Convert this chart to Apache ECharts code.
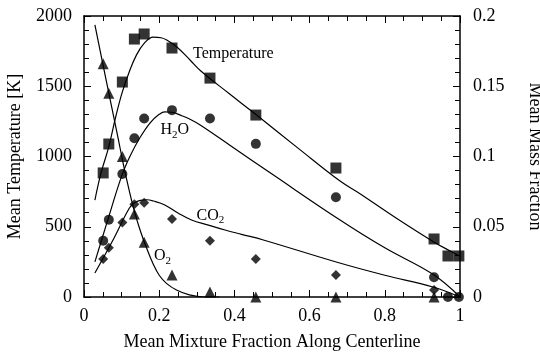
<!DOCTYPE html>
<html><head><meta charset="utf-8">
<script src="https://cdn.jsdelivr.net/npm/echarts@6/dist/echarts.min.js"></script>
<style>html,body{margin:0;padding:0;background:#fff}#c{width:540px;height:356px}</style>
</head><body><div id="c"></div>
<script>
// Measured data (mean mixture fraction along centerline)
const mixtureFraction = [0.051, 0.066, 0.102, 0.134, 0.160, 0.234, 0.335, 0.457, 0.670, 0.931, 0.968, 0.997];
const temperatureMeasured = [883, 1089, 1530, 1836, 1872, 1772, 1558, 1295, 918, 413, 292, 292];
const h2oMeasured = [0.040, 0.055, 0.0875, 0.113, 0.127, 0.133, 0.127, 0.109, 0.071, 0.014, 0.0, 0.0];
const co2Measured = [0.027, 0.035, 0.053, 0.066, 0.067, 0.0555, 0.040, 0.027, 0.0157, 0.005, null, null];
const o2Measured = [0.166, 0.145, 0.100, 0.059, 0.039, 0.0157, 0.0036, 0.0, 0.0, 0.0, null, null];

// Model curves
const tempModelX = [0.029, 0.045, 0.066, 0.085, 0.102, 0.12, 0.14, 0.16, 0.184, 0.205, 0.22, 0.247, 0.282, 0.31, 0.385, 0.459, 0.57, 0.681, 0.734, 0.83, 0.929, 0.979, 1.0];
const tempModelY = [690, 880, 1070, 1290, 1460, 1600, 1725, 1805, 1850, 1845, 1829, 1779, 1687, 1610, 1450, 1295, 1058, 825, 735, 562, 394, 320, 290];
const h2oModelX = [0.029, 0.06, 0.10, 0.122, 0.149, 0.176, 0.20, 0.215, 0.234, 0.26, 0.282, 0.309, 0.388, 0.50, 0.681, 0.80, 0.929, 1.0];
const h2oModelY = [0.025, 0.052, 0.086, 0.100, 0.1135, 0.124, 0.130, 0.1318, 0.1315, 0.129, 0.1265, 0.1224, 0.108, 0.0875, 0.0548, 0.035, 0.016, 0.0];
const co2ModelX = [0.029, 0.08, 0.12, 0.135, 0.15, 0.167, 0.185, 0.215, 0.251, 0.286, 0.331, 0.375, 0.419, 0.477, 0.68, 0.80, 0.928, 1.0];
const co2ModelY = [0.0171, 0.042, 0.063, 0.0672, 0.0688, 0.0692, 0.0683, 0.0655, 0.0596, 0.0548, 0.0512, 0.0477, 0.0446, 0.0406, 0.0242, 0.0155, 0.0071, 0.0];
const o2ModelX = [0.029, 0.05, 0.07, 0.09, 0.105, 0.12, 0.135, 0.15, 0.167, 0.184, 0.20, 0.22, 0.246, 0.28, 0.32, 0.36];
const o2ModelY = [0.1936, 0.166, 0.140, 0.114, 0.094, 0.076, 0.060, 0.047, 0.0345, 0.0235, 0.0155, 0.0095, 0.005, 0.0015, 0.0, 0.0];

const xTicks = [0, 0.2, 0.4, 0.6, 0.8, 1];
const FONT = 'Liberation Serif';

function pairs(xs, ys) { return xs.map((x, i) => [x, ys[i]]).filter(p => p[1] !== null); }

function axis(extra, minorSplit) {
  return Object.assign({
    axisLine: { show: true, onZero: false, lineStyle: { color: '#000', width: 1.5 } },
    axisTick: { show: true, inside: true, length: 7, lineStyle: { color: '#000', width: 1 } },
    minorTick: { show: true, splitNumber: minorSplit, length: 5, lineStyle: { color: '#000', width: 1 } },
    splitLine: { show: false },
    axisLabel: { color: '#000', fontFamily: FONT, fontSize: 18, formatter: v => String(v) },
    nameTextStyle: { color: '#000', fontFamily: FONT, fontSize: 18 }
  }, extra);
}

const curveStyle = { color: '#000', width: 1.2 };
const lineSeries = (xs, ys, yi) => ({ type: 'line', yAxisIndex: yi, data: pairs(xs, ys), smooth: 0.4, symbol: 'none', lineStyle: curveStyle });
const pointSeries = (xs, ys, yi, sym, size) => ({ type: 'scatter', yAxisIndex: yi, data: pairs(xs, ys), symbol: sym, symbolSize: size, itemStyle: { color: '#000' } });

// Curve labels with subscripts
const ctx = document.createElement('canvas').getContext('2d');
function w(text, size) { ctx.font = size + 'px ' + FONT; return ctx.measureText(text).width; }
function label(parts, x, y) {
  const els = [];
  let cx = x;
  parts.forEach(p => {
    const size = p.sub ? 11 : 16;
    els.push({ type: 'text', x: cx, y: y + (p.sub ? 5 : 0),
      style: { text: p.t, font: size + 'px ' + FONT, fill: '#000', verticalAlign: 'middle', align: 'left' } });
    cx += w(p.t, size);
  });
  return els;
}

const chart = echarts.init(document.getElementById('c'));
const option = {
  animation: false,
  grid: { left: 84, right: 80, top: 16, bottom: 59, outerBoundsMode: 'none' },
  xAxis: [
    axis({ type: 'value', position: 'bottom', min: 0, max: 1, interval: 0.2,
      axisLabel: { color: '#000', fontFamily: FONT, fontSize: 18, margin: 10,
        formatter: v => { const t = xTicks.find(k => Math.abs(k - v) < 1e-9); return t === undefined ? '' : String(t); } },
      name: 'Mean Mixture Fraction Along Centerline', nameLocation: 'middle', nameGap: 36 }, 4),
    axis({ type: 'value', position: 'top', min: 0, max: 1, interval: 0.2, axisLabel: { show: false } }, 4)
  ],
  yAxis: [
    axis({ type: 'value', position: 'left', min: 0, max: 2000, interval: 500,
      axisLabel: { color: '#000', fontFamily: FONT, fontSize: 18, margin: 12, formatter: v => String(v) },
      name: 'Mean Temperature [K]', nameLocation: 'middle', nameGap: 60 }, 5),
    axis({ type: 'value', position: 'right', min: 0, max: 0.2, interval: 0.05,
      axisLabel: { color: '#000', fontFamily: FONT, fontSize: 18, margin: 13, formatter: v => String(v) },
      name: 'Mean Mass Fraction', nameLocation: 'middle', nameGap: 66, nameRotate: -90 }, 5)
  ],
  series: [
    lineSeries(tempModelX, tempModelY, 0),
    lineSeries(h2oModelX, h2oModelY, 1),
    lineSeries(co2ModelX, co2ModelY, 1),
    lineSeries(o2ModelX, o2ModelY, 1),
    pointSeries(mixtureFraction, temperatureMeasured, 0, 'rect', 11),
    pointSeries(mixtureFraction, h2oMeasured, 1, 'circle', 10),
    pointSeries(mixtureFraction, co2Measured, 1, 'diamond', 10),
    pointSeries(mixtureFraction, o2Measured, 1, 'triangle', 11)
  ],
  graphic: [].concat(
    label([{ t: 'Temperature' }], 193, 54),
    label([{ t: 'H' }, { t: '2', sub: true }, { t: 'O' }], 160.5, 130),
    label([{ t: 'CO' }, { t: '2', sub: true }], 196.5, 215.5),
    label([{ t: 'O' }, { t: '2', sub: true }], 154, 256)
  )
};
chart.setOption(option);
</script>
</body></html>
